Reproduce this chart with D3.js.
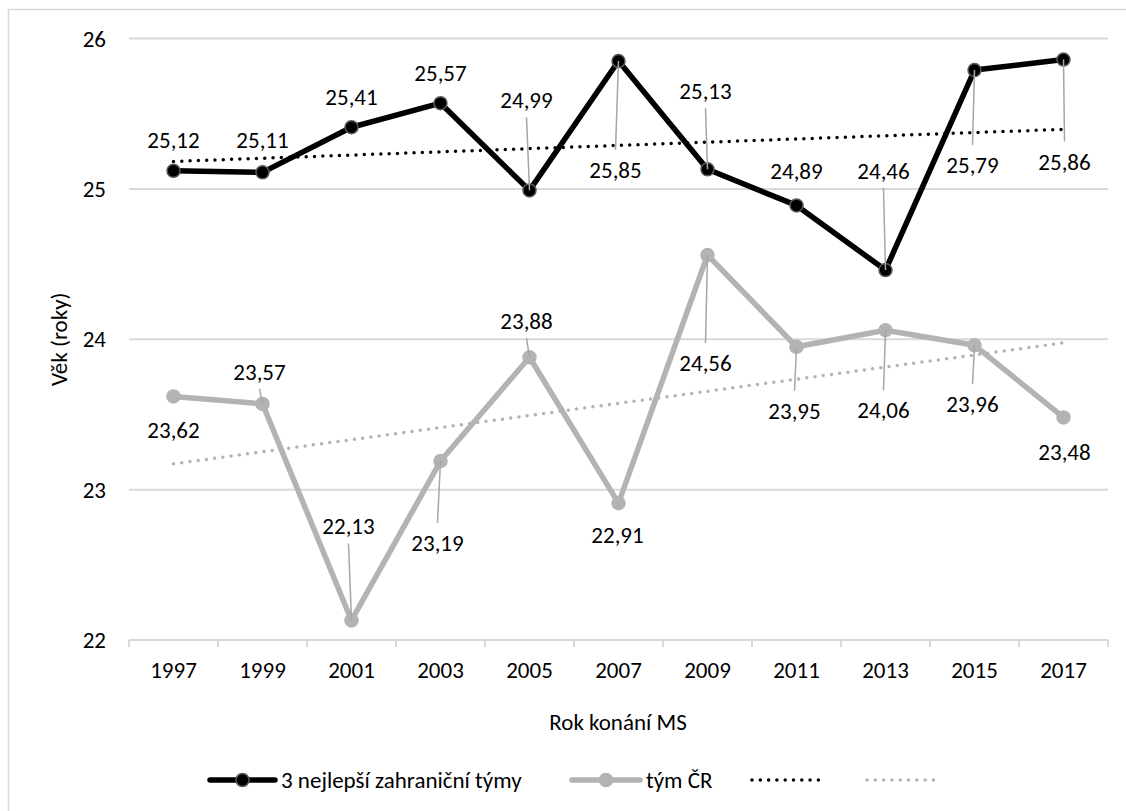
<!DOCTYPE html>
<html>
<head>
<meta charset="utf-8">
<script src="https://cdn.jsdelivr.net/npm/d3@7"></script>
<style>
  html, body { margin: 0; padding: 0; background: #fff; }
  svg text { font-family: Carlito, Calibri, "Open Sans", sans-serif; fill: #000; }
</style>
</head>
<body>
<svg id="chart" width="1126" height="811"></svg>
<script>
// Championship years (x categories)
const years = ["1997", "1999", "2001", "2003", "2005", "2007", "2009", "2011", "2013", "2015", "2017"];
// Average age of the three best foreign teams
const foreignTop3 = [25.12, 25.11, 25.41, 25.57, 24.99, 25.85, 25.13, 24.89, 24.46, 25.79, 25.86];
// Average age of the Czech team
const czechTeam = [23.62, 23.57, 22.13, 23.19, 23.88, 22.91, 24.56, 23.95, 24.06, 23.96, 23.48];
// Y-axis tick values
const yTicks = [22, 23, 24, 25, 26];
// Legend captions
const seriesNames = ["3 nejlepší zahraniční týmy", "tým ČR"];

// Hand-placed data label offsets [dx, dy] from each point, plus whether a leader line is drawn
const foreignLabelOffsets = [[0, -31], [0, -32], [0, -30], [0, -30], [-3, -90], [-3, 109], [-2, -78], [0, -34], [-2, -99], [-2, 95], [1, 102]];
const foreignLeaders = [false, false, false, false, true, true, true, false, true, true, true];
const czechLabelOffsets = [[0, 34], [-3, -32], [-3, -94], [-3, 82], [-3, -36], [-1, 32], [-2, 108], [-2, 64], [-2, 80], [-2, 59], [1, 35]];
const czechLeaders = [false, true, true, true, true, false, true, true, true, true, false];

const svg = d3.select("#chart");
const FONT = 23;
const BLACK = "#000000";
const GRAY = "#b3b3b3";
const GRID = "#d9d9d9";

// chart area outline
svg.append("rect")
  .attr("x", 8.5).attr("y", 9.5)
  .attr("width", 1130).attr("height", 820)
  .attr("fill", "none").attr("stroke", GRID).attr("stroke-width", 1.5);

const plot = { left: 129, right: 1108, top: 38.5, bottom: 640 };

const x = d3.scaleBand().domain(years).range([plot.left, plot.right]).padding(0);
const cx = d => x(d) + x.bandwidth() / 2;
const y = d3.scaleLinear().domain([22, 26]).range([plot.bottom, plot.top]);

// horizontal gridlines
svg.append("g").selectAll("line")
  .data(yTicks.filter(t => t !== 22))
  .join("line")
  .attr("x1", plot.left).attr("x2", plot.right)
  .attr("y1", d => y(d)).attr("y2", d => y(d))
  .attr("stroke", GRID).attr("stroke-width", 2);

// y tick labels
svg.append("g").selectAll("text")
  .data(yTicks)
  .join("text")
  .attr("x", 106).attr("y", d => y(d))
  .attr("text-anchor", "end").attr("dominant-baseline", "central")
  .attr("font-size", FONT)
  .text(d => d);

// x axis line with tick marks between categories
const boundaries = years.map(d => x(d)).concat([x(years[years.length - 1]) + x.bandwidth()]);
svg.append("line")
  .attr("x1", plot.left).attr("x2", plot.right)
  .attr("y1", plot.bottom).attr("y2", plot.bottom)
  .attr("stroke", GRID).attr("stroke-width", 2);
svg.append("g").selectAll("line")
  .data(boundaries)
  .join("line")
  .attr("x1", d => d).attr("x2", d => d)
  .attr("y1", plot.bottom).attr("y2", plot.bottom + 7)
  .attr("stroke", GRID).attr("stroke-width", 2);

// x tick labels
svg.append("g").selectAll("text")
  .data(years)
  .join("text")
  .attr("x", d => cx(d)).attr("y", 670)
  .attr("text-anchor", "middle").attr("dominant-baseline", "central")
  .attr("font-size", FONT)
  .text(d => d);

// axis titles
svg.append("text")
  .attr("x", 618).attr("y", 722)
  .attr("text-anchor", "middle").attr("dominant-baseline", "central")
  .attr("font-size", FONT)
  .text("Rok konání MS");
svg.append("text")
  .attr("transform", `translate(59, ${(plot.top + plot.bottom) / 2}) rotate(-90)`)
  .attr("text-anchor", "middle").attr("dominant-baseline", "central")
  .attr("font-size", FONT)
  .text("Věk (roky)");

// least-squares trend over category index
function trend(values) {
  const n = values.length;
  const xs = values.map((_, i) => i + 1);
  const mx = d3.mean(xs), my = d3.mean(values);
  const sxy = d3.sum(xs, (xi, i) => (xi - mx) * (values[i] - my));
  const sxx = d3.sum(xs, xi => (xi - mx) * (xi - mx));
  const b = sxy / sxx, a = my - b * mx;
  return [{ i: 0, v: a + b * 1 }, { i: n - 1, v: a + b * n }];
}

const trendLine = d3.line().x(d => cx(years[d.i])).y(d => y(d.v));
const DOTS = "0 8.3";

svg.append("path")
  .attr("d", trendLine(trend(foreignTop3)))
  .attr("fill", "none").attr("stroke", BLACK).attr("stroke-width", 3.5)
  .attr("stroke-linecap", "round").attr("stroke-dasharray", DOTS);
svg.append("path")
  .attr("d", trendLine(trend(czechTeam)))
  .attr("fill", "none").attr("stroke", GRAY).attr("stroke-width", 3.5)
  .attr("stroke-linecap", "round").attr("stroke-dasharray", DOTS);

// series lines
const seriesLine = d3.line().x((d, i) => cx(years[i])).y(d => y(d));

function drawSeries(values, color, markerStroke, offsets, leaders) {
  const g = svg.append("g");
  g.append("path")
    .attr("d", seriesLine(values))
    .attr("fill", "none").attr("stroke", color).attr("stroke-width", 5.5)
    .attr("stroke-linejoin", "round");
  g.selectAll("circle")
    .data(values)
    .join("circle")
    .attr("cx", (d, i) => cx(years[i])).attr("cy", d => y(d))
    .attr("r", 6.5)
    .attr("fill", color).attr("stroke", markerStroke).attr("stroke-width", 1.5);

  // leader lines from label edge to the point
  g.selectAll("line.leader")
    .data(values.map((v, i) => ({ v, i })).filter(d => leaders[d.i]))
    .join("line")
    .attr("class", "leader")
    .attr("x1", d => cx(years[d.i]) + offsets[d.i][0])
    .attr("y1", d => y(d.v) + offsets[d.i][1] + (offsets[d.i][1] < 0 ? 17 : -20))
    .attr("x2", d => cx(years[d.i]))
    .attr("y2", d => y(d.v))
    .attr("stroke", "#a6a6a6").attr("stroke-width", 1.5);

  g.selectAll("text")
    .data(values)
    .join("text")
    .attr("x", (d, i) => cx(years[i]) + offsets[i][0])
    .attr("y", (d, i) => y(d) + offsets[i][1])
    .attr("text-anchor", "middle").attr("dominant-baseline", "central")
    .attr("font-size", FONT)
    .text(d => d3.format(".2f")(d).replace(".", ","));
}

drawSeries(czechTeam, GRAY, GRAY, czechLabelOffsets, czechLeaders);
drawSeries(foreignTop3, BLACK, "#595959", foreignLabelOffsets, foreignLeaders);

// legend
const legendY = 780;
const legend = svg.append("g");
function legendSeries(x0, x1, color, markerStroke, label) {
  legend.append("line")
    .attr("x1", x0).attr("x2", x1).attr("y1", legendY).attr("y2", legendY)
    .attr("stroke", color).attr("stroke-width", 5.5).attr("stroke-linecap", "round");
  legend.append("circle")
    .attr("cx", (x0 + x1) / 2).attr("cy", legendY).attr("r", 6.5)
    .attr("fill", color).attr("stroke", markerStroke).attr("stroke-width", 1.5);
  legend.append("text")
    .attr("x", x1 + 6).attr("y", legendY)
    .attr("dominant-baseline", "central").attr("font-size", FONT)
    .text(label);
}
legendSeries(210, 275, BLACK, "#595959", seriesNames[0]);
legendSeries(572, 640, GRAY, GRAY, seriesNames[1]);
function legendTrend(x0, x1, color) {
  legend.append("line")
    .attr("x1", x0).attr("x2", x1).attr("y1", legendY).attr("y2", legendY)
    .attr("stroke", color).attr("stroke-width", 3.5)
    .attr("stroke-linecap", "round").attr("stroke-dasharray", DOTS);
}
legendTrend(752, 820, BLACK);
legendTrend(867, 937, GRAY);
</script>
</body>
</html>
